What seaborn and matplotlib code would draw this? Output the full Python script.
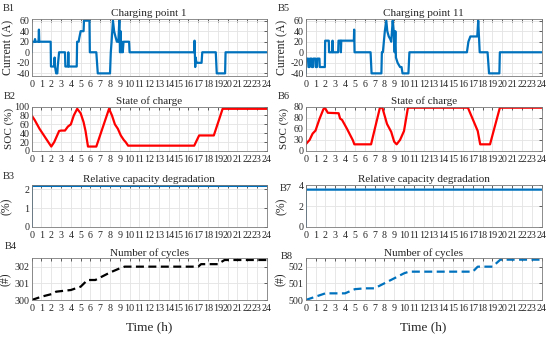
import numpy as np
import pandas as pd
import matplotlib
matplotlib.use('Agg')
import matplotlib.pyplot as plt
import seaborn as sns

sns.set_style('white')
plt.rcParams['font.family'] = ['Liberation Serif', 'DejaVu Serif']
plt.rcParams['axes.unicode_minus'] = False

# ---- data ----
hours = list(range(0, 25))

# Charging point 1 - current (A)
cp1_t = [0.0, 0.05, 0.30, 0.34, 0.38, 0.70, 0.74, 0.78, 1.94, 1.97,
         2.30, 2.34, 2.38, 2.50, 2.62, 2.66, 2.80, 3.40, 3.44, 3.70,
         3.74, 3.78, 4.60, 4.64, 4.80, 4.84, 5.00, 5.30, 5.34, 5.90,
         5.94, 6.60, 6.75, 8.00, 8.08, 8.16, 8.30, 8.42, 8.55, 8.70,
         8.85, 8.95, 9.02, 9.08, 9.15, 9.22, 9.30, 9.38, 9.95, 10.00,
         16.60, 16.63, 16.70, 16.75, 16.82, 16.86, 17.35, 17.42, 18.80, 18.90,
         19.75, 19.80, 24.0]
cp1_i = [0, 20, 20, 25, 20, 20, 43, 20, 20, -27,
         -27, -10, -27, -40, -40, -27, 0, 0, -27, -27,
         0, -27, -27, 20, 20, 25, 40, 40, 60, 60,
         0, 0, -40, -40, 0, 20, 60, 40, 30, 20,
         20, 60, 0, 40, 0, 20, 0, 20, 20, 0,
         0, 22, -28, -10, -20, -20, -20, 0, 0, -40,
         -40, 0, 0]

# Charging point 11 - current (A)
cp11_t = [0.00, 0.04, 0.25, 0.28, 0.40, 0.43, 0.60, 0.63, 0.75, 0.78,
          1.00, 1.03, 1.15, 1.18, 1.40, 1.43, 1.95, 1.98, 2.35, 2.38,
          2.70, 2.73, 2.78, 3.30, 3.34, 3.55, 3.58, 3.62, 4.90, 4.93,
          4.97, 6.60, 6.70, 7.70, 7.75, 7.85, 7.95, 8.05, 8.20, 8.30,
          8.45, 8.60, 8.70, 8.85, 8.95, 9.05, 9.12, 9.18, 9.35, 9.60,
          9.75, 9.85, 10.45, 10.55, 16.40, 16.55, 16.75, 17.45, 17.55, 17.70,
          18.50, 18.65, 19.70, 19.75, 24.00]
cp11_i = [-40, -12, -12, -28, -28, -12, -12, -28, -28, -12,
          -12, -28, -28, -12, -12, -28, -28, 22, 22, 0,
          0, 22, 0, 0, 22, 22, 0, 22, 22, 43,
          0, 0, -40, -40, 0, 0, 20, 40, 60, 40,
          30, 25, 20, 60, 40, 0, 40, -10, -20, -28,
          -28, -40, -40, 0, 0, 20, 30, 30, 60, 0,
          0, -40, -40, 0, 0]

# State of charge (%)
soc1_t = [0, 0.3, 0.8, 2.0, 2.3, 2.5, 2.8, 3.0, 3.4, 3.7,
          4.0, 4.3, 4.65, 5.0, 5.3, 5.5, 5.75, 6.6, 7.9, 8.2,
          8.5, 8.8, 9.1, 9.4, 9.6, 9.85, 16.6, 17.1, 18.6, 19.5,
          24]
soc1_v = [80, 70, 50, 10, 20, 30, 45, 46, 46, 55,
          60, 80, 95, 85, 65, 45, 10, 10, 95, 80,
          60, 50, 35, 25, 20, 12, 12, 35, 35, 95,
          95]

soc11_t = [0, 0.4, 0.7, 1.0, 1.4, 1.8, 1.95, 2.25, 3.35, 3.5,
           3.7, 4.2, 4.8, 4.95, 6.65, 7.55, 7.8, 8.27, 8.7, 9.0,
           9.25, 9.6, 10.0, 10.4, 16.5, 17.5, 17.75, 18.75, 19.75, 24]
soc11_v = [15, 25, 39, 46, 72, 94, 97.5, 86, 85, 73,
           70, 50, 24, 15, 15, 97.5, 97.5, 61, 43, 21,
           15, 25, 45, 97.5, 97.5, 45, 15, 15, 97.5, 97.5]
soc11_ticks = [0, 25, 50, 75, 100]
soc11_labels = ['0', '30', '60', '80', '80']

# Relative capacity degradation (%)
deg_t = [0, 0.01, 24]
deg1_v = [0, 2.17, 2.17]
deg11_v = [0, 3.6, 3.6]

# Number of cycles
cyc1_t = [0, 1, 2, 2.5, 4, 5, 5.7, 6.5, 7, 8, 9, 9.5, 17, 17.3, 19, 19.7, 24]
cyc1_v = [300, 300.2, 300.35, 300.5, 300.6, 300.8, 301.2, 301.2, 301.35,
          301.65, 301.9, 302.0, 302.0, 302.15, 302.15, 302.4, 302.4]
cyc11_t = [0, 1, 2, 4, 5, 6, 7, 8, 9, 10, 10.5, 17, 17.5, 19, 19.8, 24]
cyc11_v = [500, 500.2, 500.4, 500.4, 500.65, 500.7, 500.7, 501.0, 501.3,
           501.6, 501.7, 501.7, 502.0, 502.0, 502.42, 502.42]

blue = '#0072BD'
red = '#FF0000'

fig = plt.figure(figsize=(5.5, 3.39), dpi=100)

lefts = [0.0576, 0.5558]
widths = [0.4273, 0.429]
rows = [(0.7758, 0.168), (0.5546, 0.131), (0.3304, 0.124), (0.1150, 0.123)]

axes = [[fig.add_axes([lefts[c], rows[r][0], widths[c], rows[r][1]]) for r in range(4)]
        for c in range(2)]


def style(ax, yticks, ylim, title):
    ax.set_xlim(0, 24)
    ax.set_ylim(*ylim)
    ax.set_xticks(hours)
    ax.set_xticklabels([str(h) for h in hours])
    ax.set_yticks(yticks)
    ax.grid(True, color='#e3e3e3', linewidth=0.6)
    ax.tick_params(direction='in', length=2, width=0.5, labelsize=7.2,
                   top=True, right=True, colors='#262626')
    ax.tick_params(axis='x', pad=3)
    ax.tick_params(axis='y', pad=1.5)
    for s in ax.spines.values():
        s.set_color('#7a7a7a')
        s.set_linewidth(0.6)
    ax.set_title(title, fontsize=8, pad=2)
    ax.set_xlabel('')


def line(ax, t, v, color, ls='-', lw=1.6):
    df = pd.DataFrame({'t': t, 'v': v})
    sns.lineplot(data=df, x='t', y='v', ax=ax, color=color, estimator=None,
                 sort=False, linewidth=lw, linestyle=ls)


dash = (0, (3.6, 2))

# left column
ax = axes[0][0]
line(ax, cp1_t, cp1_i, blue)
style(ax, [-40, -20, 0, 20, 40, 60], (-45, 63), 'Charging point 1')
ax.set_ylabel('Current (A)', fontsize=8.5)

ax = axes[0][1]
line(ax, soc1_t, soc1_v, red)
style(ax, [0, 20, 40, 60, 80, 100], (0, 100), 'State of charge')
ax.set_ylabel('SOC (%)', fontsize=8)

ax = axes[0][2]
line(ax, deg_t, deg1_v, blue)
style(ax, [0, 1, 2], (0, 2.22), 'Relative capacity degradation')
ax.set_ylabel('(%)', fontsize=8.5)

ax = axes[0][3]
line(ax, cyc1_t, cyc1_v, 'black', ls=dash)
style(ax, [300, 301, 302], (300, 302.5), 'Number of cycles')
ax.set_ylabel('(#)', fontsize=8.5)
ax.set_xlabel('Time (h)', fontsize=9.5, labelpad=6)

# right column
ax = axes[1][0]
line(ax, cp11_t, cp11_i, blue)
style(ax, [-40, -20, 0, 20, 40, 60], (-45, 63), 'Charging point 11')
ax.set_ylabel('Current (A)', fontsize=8.5)

ax = axes[1][1]
line(ax, soc11_t, soc11_v, red)
style(ax, soc11_ticks, (0, 100), 'State of charge')
ax.set_yticklabels(soc11_labels)
ax.set_ylabel('SOC (%)', fontsize=8)

ax = axes[1][2]
line(ax, deg_t, deg11_v, blue)
style(ax, [0, 2, 4], (0, 4.05), 'Relative capacity degradation')
ax.set_ylabel('(%)', fontsize=8.5)

ax = axes[1][3]
line(ax, cyc11_t, cyc11_v, blue, ls=dash)
style(ax, [500, 501, 502], (500, 502.5), 'Number of cycles')
ax.set_ylabel('(#)', fontsize=8.5)
ax.set_xlabel('Time (h)', fontsize=9.5, labelpad=6)

label_x = [[-0.076, -0.074, -0.08, -0.084], [-0.072, -0.07, -0.076, -0.08]]
for c in range(2):
    for r in range(4):
        axes[c][r].yaxis.set_label_coords(label_x[c][r], 0.5)

# panel tags
tags = [('B1', 3, 4), ('B2', 4, 92), ('B3', 3, 172), ('B4', 5, 242),
        ('B5', 278, 4), ('B6', 278, 92), ('B7', 280, 184), ('B8', 281, 252)]
for name, px, py in tags:
    fig.text(px / 550, 1 - py / 339, name, fontsize=7.5, va='top', ha='left')

fig.savefig('out.png', dpi=100)
